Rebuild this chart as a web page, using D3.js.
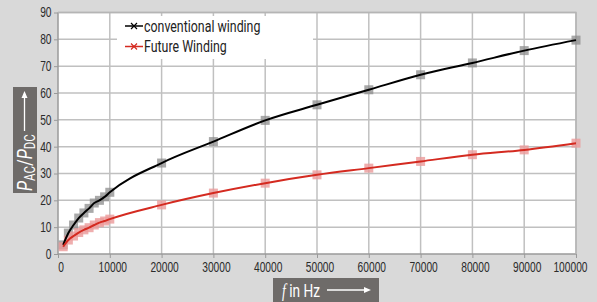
<!DOCTYPE html>
<html lang="en">
  <head>
    <meta charset="UTF-8" />
    <title>PAC/PDC over frequency</title>
    <style>
      body {
        margin: 0;
        overflow: hidden;
        background: #d9d9d9;
      }
      svg {
        font-family: Roboto, "DejaVu Sans Condensed", sans-serif;
      }
      .tick text {
        font-size: 14px;
        fill: #2b2b2b;
      }
      .tick line {
        stroke: #9a9a9a;
      }
      .domain {
        stroke: #9a9a9a;
        stroke-width: 1.5px;
      }
      .grid line {
        stroke: #c0c0c0;
        stroke-width: 1.5px;
      }
    </style>
    <script src="https://unpkg.com/d3@7.8.1/dist/d3.min.js"></script>
  </head>
  <body>
    <script>
      const { select, scaleLinear, axisLeft, axisBottom, line, curveMonotoneX, range } = d3;

      // data
      const freq = [1000, 2000, 3000, 4000, 5000, 6000, 7000, 8000, 9000, 10000,
        20000, 30000, 40000, 50000, 60000, 70000, 80000, 90000, 100000];
      const conventional = [3.4, 7.8, 10.8, 13.4, 15.3, 17, 19, 20, 21.3, 23,
        33.9, 41.9, 49.8, 55.6, 61.2, 66.8, 71.2, 75.8, 79.7];
      const future = [2.7, 5.2, 6.7, 8, 9, 9.8, 10.8, 11.7, 12.3, 13,
        18.3, 22.7, 26.4, 29.5, 32, 34.5, 37, 38.8, 41.3];
      const xTicks = range(0, 100001, 10000);
      const yTicks = range(0, 91, 10);
      const seriesNames = ["conventional winding", "Future Winding"];

      const width = 597;
      const height = 302;
      const margin = { top: 12.5, right: 21, bottom: 48, left: 58 };
      const squeeze = 0.76; // condensed look of the original font
      const tickSqueeze = 0.73;

      const svg = select("body")
        .append("svg")
        .attr("width", width)
        .attr("height", height);

      const x = scaleLinear()
        .domain([0, 100000])
        .range([margin.left, width - margin.right]);
      const y = scaleLinear()
        .domain([0, 90])
        .range([height - margin.bottom, margin.top]);

      // plot area
      svg.append("rect")
        .attr("x", x(0))
        .attr("y", y(90))
        .attr("width", x(100000) - x(0))
        .attr("height", y(0) - y(90))
        .attr("fill", "white");

      const grid = svg.append("g").attr("class", "grid");
      grid.selectAll(".gx")
        .data(xTicks.slice(1))
        .join("line")
        .attr("x1", d => x(d)).attr("x2", d => x(d))
        .attr("y1", y(0)).attr("y2", y(90));
      grid.selectAll(".gy")
        .data(yTicks.slice(1))
        .join("line")
        .attr("x1", x(0)).attr("x2", x(100000))
        .attr("y1", d => y(d)).attr("y2", d => y(d));

      // legend box covers the grid
      const lg = svg.append("g").attr("transform", `translate(117, 16)`);
      lg.append("rect")
        .attr("width", 196).attr("height", 43)
        .attr("fill", "white");
      const legendColors = ["#000000", "#d42a20"];
      seriesNames.forEach((name, i) => {
        const ly = 10 + i * 20.5;
        lg.append("line")
          .attr("x1", 8).attr("x2", 26)
          .attr("y1", ly).attr("y2", ly)
          .attr("stroke", legendColors[i]).attr("stroke-width", 1.5);
        lg.append("path")
          .attr("d", `M${17 - 3},${ly - 3}L${17 + 3},${ly + 3}M${17 - 3},${ly + 3}L${17 + 3},${ly - 3}`)
          .attr("stroke", legendColors[i]).attr("stroke-width", 1.2);
        lg.append("text")
          .attr("transform", `translate(27, ${ly + 5.5}) scale(${squeeze},1)`)
          .attr("font-size", 16.3)
          .attr("fill", "#222")
          .text(name);
      });

      // axes
      svg.append("g")
        .attr("transform", `translate(${x(0)}, 0)`)
        .call(axisLeft(y).tickValues(yTicks).tickSize(4).tickPadding(3))
        .call(g => g.select(".domain").attr("d", `M0,${y(0)}V${y(90)}`))
        .call(g => g.selectAll(".tick text")
          .attr("x", -6.5 / tickSqueeze)
          .attr("transform", `scale(${tickSqueeze},1)`));
      svg.append("g")
        .attr("transform", `translate(0, ${y(0)})`)
        .call(axisBottom(x).tickValues(xTicks).tickSize(4).tickPadding(4).tickFormat(d3.format("d")))
        .call(g => g.select(".domain").attr("d", `M${x(0)},0H${x(100000)}`))
        .call(g => g.selectAll(".tick text")
          .attr("x", d => d === 100000 ? 11 / tickSqueeze : 2.5 / tickSqueeze)
          .attr("text-anchor", d => d === 100000 ? "end" : "middle")
          .attr("transform", `scale(${tickSqueeze},1)`));

      // frame top and right
      svg.append("path")
        .attr("d", `M${x(0)},${y(90)}H${x(100000)}V${y(0)}`)
        .attr("fill", "none")
        .attr("stroke", "#b5b5b5")
        .attr("stroke-width", 1.5);

      // markers
      const series = [
        { values: conventional, color: "#000000", marker: "#8c8c8c", op: 0.75 },
        { values: future, color: "#d42a20", marker: "#eb9a9a", op: 0.8 }
      ];
      series.forEach(s => {
        svg.append("g")
          .selectAll("rect")
          .data(freq.map((f, i) => [f, s.values[i]]))
          .join("rect")
          .attr("x", d => x(d[0]) - 4.5)
          .attr("y", d => y(d[1]) - 4.5)
          .attr("width", 9)
          .attr("height", 9)
          .attr("fill", s.marker)
          .attr("opacity", s.op);
      });
      const lineGen = line()
        .x(d => x(d[0]))
        .y(d => y(d[1]))
        .curve(curveMonotoneX);
      series.forEach(s => {
        svg.append("path")
          .datum(freq.map((f, i) => [f, s.values[i]]))
          .attr("d", lineGen)
          .attr("fill", "none")
          .attr("stroke", s.color)
          .attr("stroke-width", 2);
      });

      // y title box
      const yt = svg.append("g");
      yt.append("rect")
        .attr("x", 13).attr("y", 87).attr("width", 24).attr("height", 106)
        .attr("fill", "#6e6b69");
      const ytg = yt.append("g").attr("transform", "translate(31.5, 191) rotate(-90)");
      const ytxt = ytg.append("text")
        .attr("transform", `scale(0.82,1)`)
        .attr("fill", "white")
        .attr("font-size", 20);
      ytxt.append("tspan").attr("font-style", "italic").text("P");
      ytxt.append("tspan").attr("font-size", 14).attr("dy", 3).text("AC");
      ytxt.append("tspan").attr("dy", -3).text("/");
      ytxt.append("tspan").attr("font-style", "italic").text("P");
      ytxt.append("tspan").attr("font-size", 14).attr("dy", 3).text("DC");
      ytg.append("line")
        .attr("x1", 60).attr("x2", 96)
        .attr("y1", -7).attr("y2", -7)
        .attr("stroke", "white").attr("stroke-width", 1.3);
      ytg.append("path")
        .attr("d", "M100,-7L93,-10L93,-4Z")
        .attr("fill", "white");

      // x title box
      const xt = svg.append("g");
      xt.append("rect")
        .attr("x", 273).attr("y", 278).attr("width", 106).attr("height", 26)
        .attr("fill", "#6e6b69");
      const xtxt = xt.append("text")
        .attr("transform", `translate(282, 297) scale(${squeeze},1)`)
        .attr("fill", "white")
        .attr("font-size", 18);
      xtxt.append("tspan").attr("font-style", "italic").attr("font-family", "Liberation Serif, serif").text("f");
      xtxt.append("tspan").text(" in Hz");
      xt.append("line")
        .attr("x1", 327).attr("x2", 366)
        .attr("y1", 290).attr("y2", 290)
        .attr("stroke", "white").attr("stroke-width", 1.3);
      xt.append("path")
        .attr("d", "M371,290L364,287L364,293Z")
        .attr("fill", "white");
    </script>
  </body>
</html>
